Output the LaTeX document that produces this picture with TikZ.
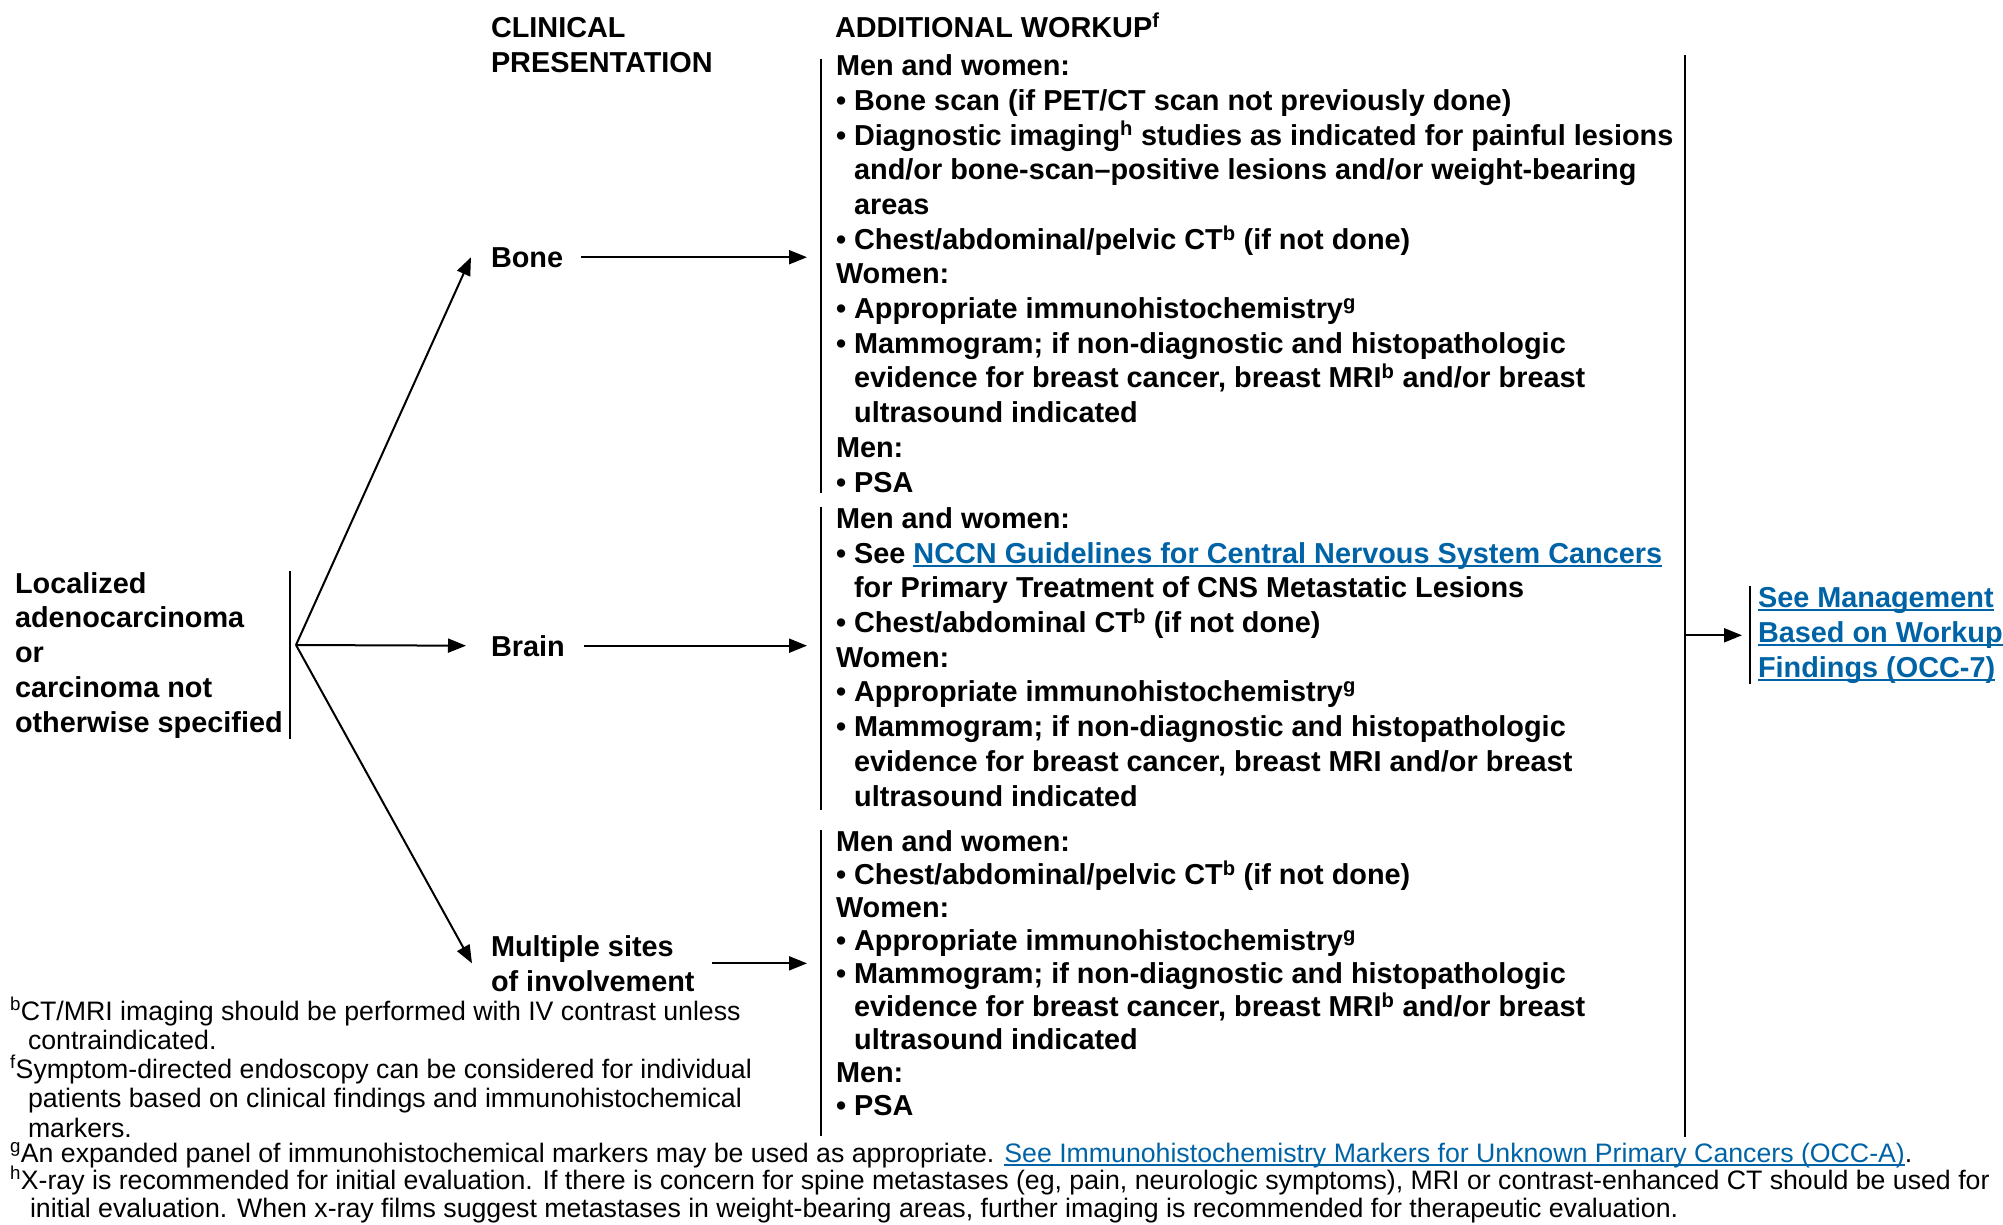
\documentclass[tikz,border=0pt]{standalone}
\usepackage{fontspec}
\setmainfont{Liberation Sans}
\usepackage{xcolor}
\usetikzlibrary{arrows.meta}

\definecolor{linkblue}{RGB}{0,99,166}
\newcommand{\lnk}[1]{{\color{linkblue}\setbox0\hbox{#1}\rlap{\rule[-3.5pt]{\wd0}{2pt}}\box0}}
\newcommand{\bul}{\textbullet\ }
\newcommand{\hang}{\hphantom{\textbullet\ }}

% multi-line nodes sit on the baseline of their last line
\tikzset{
  txt/.style={inner sep=0pt, anchor=base west, align=left,
    font=\fontsize{28.85}{34.7}\selectfont\bfseries},
  txttight/.style={txt, font=\fontsize{28.85}{32.9}\selectfont\bfseries},
  foot/.style={inner sep=0pt, anchor=base west, align=left,
    font=\fontsize{26.7}{29}\selectfont}
}

\begin{document}
\begin{tikzpicture}[x=1pt, y=-1pt, line width=2pt,
    >={Triangle[length=18pt,width=14pt]}]
  \useasboundingbox (0,0) rectangle (2003,1224);

  % headings
  \node[txt] (clin) at (490,72) {CLINICAL\\PRESENTATION};
  \node[txt] (addw) at (834,37) {ADDITIONAL WORKUP\textsuperscript{f}};

  % start and presentations
  \node[txt] (loc) at (14,732) {Localized\\adenocarcinoma\\or\\carcinoma not\\otherwise specified};
  \node[txt] (bone) at (490,267) {Bone};
  \node[txt] (brain) at (490,656) {Brain};
  \node[txt] (multi) at (490,991) {Multiple sites\\of involvement};

  % workup lists
  \node[txt] (wbone) at (835,492) {Men and women:\\
    \bul Bone scan (if PET/CT scan not previously done)\\
    \bul Diagnostic imaging\textsuperscript{h} studies as indicated for painful lesions\\
    \hang and/or bone-scan--positive lesions and/or weight-bearing\\
    \hang areas\\
    \bul Chest/abdominal/pelvic CT\textsuperscript{b} (if not done)\\
    Women:\\
    \bul Appropriate immunohistochemistry\textsuperscript{g}\\
    \bul Mammogram; if non-diagnostic and histopathologic\\
    \hang evidence for breast cancer, breast MRI\textsuperscript{b} and/or breast\\
    \hang ultrasound indicated\\
    Men:\\
    \bul PSA};
  \node[txt] (wbrain) at (835,806) {Men and women:\\
    \bul See \lnk{NCCN Guidelines for Central Nervous System Cancers}\\
    \hang for Primary Treatment of CNS Metastatic Lesions\\
    \bul Chest/abdominal CT\textsuperscript{b} (if not done)\\
    Women:\\
    \bul Appropriate immunohistochemistry\textsuperscript{g}\\
    \bul Mammogram; if non-diagnostic and histopathologic\\
    \hang evidence for breast cancer, breast MRI and/or breast\\
    \hang ultrasound indicated};
  \node[txttight] (wmulti) at (835,1115) {Men and women:\\
    \bul Chest/abdominal/pelvic CT\textsuperscript{b} (if not done)\\
    Women:\\
    \bul Appropriate immunohistochemistry\textsuperscript{g}\\
    \bul Mammogram; if non-diagnostic and histopathologic\\
    \hang evidence for breast cancer, breast MRI\textsuperscript{b} and/or breast\\
    \hang ultrasound indicated\\
    Men:\\
    \bul PSA};

  % next step
  \node[txt] (occ) at (1757,677) {\lnk{See Management}\\\lnk{Based on Workup}\\\lnk{Findings (OCC-7)}};

  % brackets
  \coordinate (fork) at (296,645);
  \coordinate (bx) at (807,0);
  \coordinate (rtop) at (1685,55);
  \coordinate (rbot) at (1685,1137);
  \draw ([xshift=6pt]loc.north east) -- ([xshift=6pt]loc.south east);
  \draw ([shift={(-14pt,-5pt)}]wbone.north west) -- ([xshift=-14pt]wbone.south west);
  \draw ([xshift=-14pt]wbrain.north west) -- ([shift={(-14pt,-3pt)}]wbrain.south west);
  \draw ([xshift=-14pt]wmulti.north west) -- ([shift={(-14pt,-20pt)}]wmulti.south west);
  \draw (rtop) -- (rbot);
  \draw ([xshift=-7pt]occ.north west) -- ([xshift=-7pt]occ.south west);

  % connectors
  \path[->]
  (fork) edge ([xshift=-19pt]bone.west)
  (fork) edge ([xshift=-24pt]brain.west)
  (fork) edge ([xshift=-18pt]multi.west)
  ([xshift=17pt]bone.east) edge (bone.east -| bx)
  ([xshift=18pt]brain.east) edge (brain.east -| bx)
  ([xshift=16pt]multi.east) edge (multi.east -| bx)
  (occ.west -| rtop) edge ([xshift=-15pt]occ.west)
  ;

  % footnotes
  \node[foot] (fnb) at (9,1049) {\textsuperscript{b}CT/MRI imaging should be performed with IV contrast unless\\
    \hspace*{18pt}contraindicated.};
  \node[foot, font=\fontsize{26.7}{29.5}\selectfont] (fnf) at (9,1137) {\textsuperscript{f}Symptom-directed endoscopy can be considered for individual\\
    \hspace*{18pt}patients based on clinical findings and immunohistochemical\\
    \hspace*{18pt}markers.};
  \node[foot] (fng) at (9,1162) {\textsuperscript{g}An expanded panel of immunohistochemical markers may be used as appropriate. \lnk{See Immunohistochemistry Markers for Unknown Primary Cancers (OCC-A)}.};
  \node[foot, font=\fontsize{26.7}{28}\selectfont] (fnh) at (9,1217) {\textsuperscript{h}X-ray is recommended for initial evaluation. If there is concern for spine metastases (eg, pain, neurologic symptoms), MRI or contrast-enhanced CT should be used for\\
    \hspace*{20pt}initial evaluation. When x-ray films suggest metastases in weight-bearing areas, further imaging is recommended for therapeutic evaluation.};
\end{tikzpicture}
\end{document}
